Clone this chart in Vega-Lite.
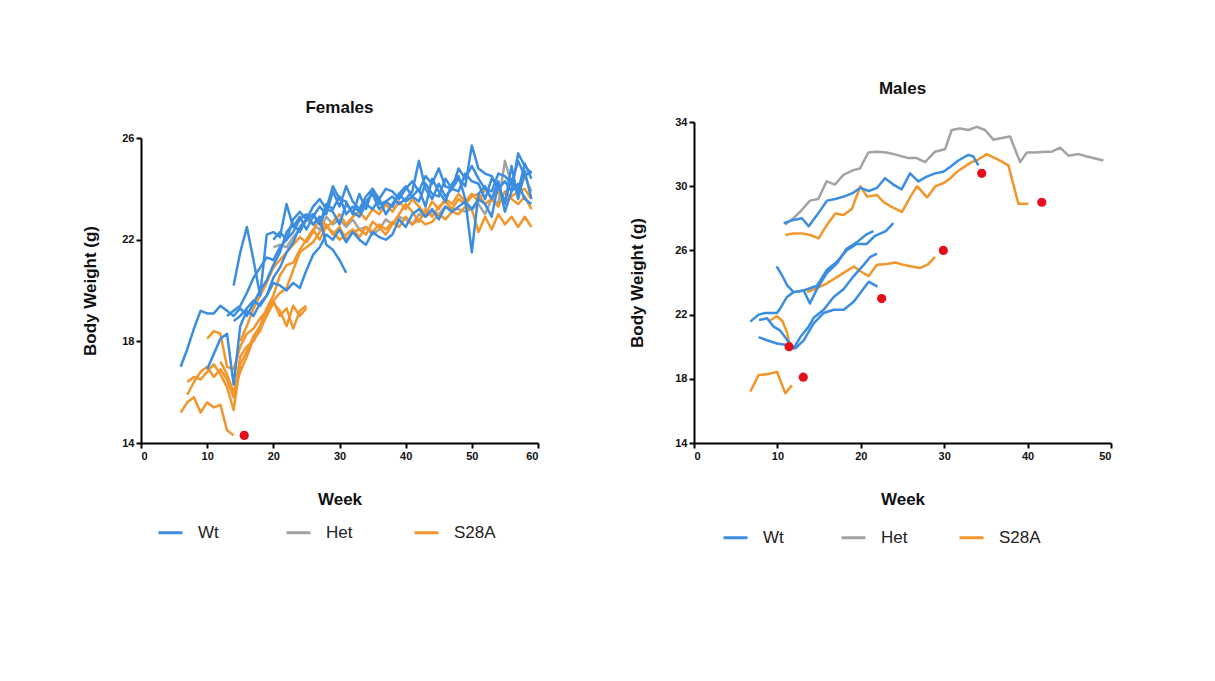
{
"$schema": "https://vega.github.io/schema/vega-lite/v6.json",
"background": "white",
"padding": {"left": 81, "top": 80, "right": 5, "bottom": 5},
"spacing": 89,
"config": {
 "view": {"stroke": null},
 "font": "Liberation Sans",
 "axis": {"domainColor": "#000", "domainWidth": 2, "tickColor": "#000", "tickWidth": 2, "tickSize": 5, "grid": false, "labelFont": "Liberation Sans", "labelFontWeight": "bold", "labelFontSize": 11, "labelColor": "#111", "titleFont": "Liberation Sans", "titleFontWeight": "bold", "titleFontSize": 17, "titleColor": "#111", "labelPadding": 2},
 "axisX": {"titlePadding": 30},
 "title": {"font": "Liberation Sans", "fontSize": 17, "fontWeight": "bold", "color": "#111", "anchor": "middle", "offset": 18},
 "legend": {"orient": "none", "direction": "horizontal", "symbolType": "stroke", "symbolSize": 576, "symbolStrokeWidth": 3, "labelFont": "Liberation Sans", "labelFontSize": 17, "labelColor": "#222", "labelOffset": 14, "gridAlign": "all"}
},
"resolve": {"scale": {"x": "independent", "y": "independent"}, "legend": {"color": "independent"}},
"datasets": {
"females": [
{"id":"FH1","geno":"Het","week":20,"bw":21.7},{"id":"FH1","geno":"Het","week":21,"bw":21.8},{"id":"FH1","geno":"Het","week":22,"bw":21.7},{"id":"FH1","geno":"Het","week":23,"bw":22.1},{"id":"FH1","geno":"Het","week":24,"bw":22.4},{"id":"FH1","geno":"Het","week":25,"bw":22.8},{"id":"FH1","geno":"Het","week":26,"bw":22.6},{"id":"FH1","geno":"Het","week":27,"bw":22.4},{"id":"FH1","geno":"Het","week":28,"bw":22.9},{"id":"FH1","geno":"Het","week":29,"bw":22.6},{"id":"FH1","geno":"Het","week":30,"bw":22.8},{"id":"FH1","geno":"Het","week":31,"bw":22.5},{"id":"FH1","geno":"Het","week":32,"bw":22.8},{"id":"FH1","geno":"Het","week":33,"bw":22.4},{"id":"FH1","geno":"Het","week":34,"bw":22.5},{"id":"FH1","geno":"Het","week":35,"bw":22.2},{"id":"FH1","geno":"Het","week":36,"bw":22.4},{"id":"FH1","geno":"Het","week":37,"bw":22.8},{"id":"FH1","geno":"Het","week":38,"bw":22.6},{"id":"FH1","geno":"Het","week":39,"bw":22.9},{"id":"FH1","geno":"Het","week":40,"bw":22.8},{"id":"FH1","geno":"Het","week":41,"bw":22.6},{"id":"FH1","geno":"Het","week":42,"bw":23.0},{"id":"FH1","geno":"Het","week":43,"bw":22.9},{"id":"FH1","geno":"Het","week":44,"bw":23.1},{"id":"FH1","geno":"Het","week":45,"bw":23.0},{"id":"FH1","geno":"Het","week":46,"bw":23.3},{"id":"FH1","geno":"Het","week":47,"bw":23.2},{"id":"FH1","geno":"Het","week":48,"bw":23.2},{"id":"FH1","geno":"Het","week":49,"bw":23.1},{"id":"FH1","geno":"Het","week":50,"bw":23.2},{"id":"FH1","geno":"Het","week":51,"bw":23.4},{"id":"FH1","geno":"Het","week":52,"bw":23.0},{"id":"FH1","geno":"Het","week":53,"bw":23.6},{"id":"FH1","geno":"Het","week":54,"bw":23.4},{"id":"FH1","geno":"Het","week":55,"bw":25.1},{"id":"FH1","geno":"Het","week":56,"bw":24.2},{"id":"FH1","geno":"Het","week":57,"bw":23.8},{"id":"FH1","geno":"Het","week":58,"bw":24.5},{"id":"FH1","geno":"Het","week":59,"bw":23.9},
{"id":"FO1","geno":"S28A","week":6,"bw":15.2},{"id":"FO1","geno":"S28A","week":7,"bw":15.6},{"id":"FO1","geno":"S28A","week":8,"bw":15.8},{"id":"FO1","geno":"S28A","week":9,"bw":15.2},{"id":"FO1","geno":"S28A","week":10,"bw":15.6},{"id":"FO1","geno":"S28A","week":11,"bw":15.4},{"id":"FO1","geno":"S28A","week":12,"bw":15.5},{"id":"FO1","geno":"S28A","week":13,"bw":14.5},{"id":"FO1","geno":"S28A","week":14,"bw":14.3},
{"id":"FO2","geno":"S28A","week":7,"bw":16.4},{"id":"FO2","geno":"S28A","week":8,"bw":16.6},{"id":"FO2","geno":"S28A","week":9,"bw":16.5},{"id":"FO2","geno":"S28A","week":10,"bw":16.8},{"id":"FO2","geno":"S28A","week":11,"bw":17.1},{"id":"FO2","geno":"S28A","week":12,"bw":16.7},{"id":"FO2","geno":"S28A","week":13,"bw":16.2},{"id":"FO2","geno":"S28A","week":14,"bw":15.3},{"id":"FO2","geno":"S28A","week":15,"bw":17.1},{"id":"FO2","geno":"S28A","week":16,"bw":17.6},{"id":"FO2","geno":"S28A","week":17,"bw":18.2},{"id":"FO2","geno":"S28A","week":18,"bw":18.6},{"id":"FO2","geno":"S28A","week":19,"bw":19.3},{"id":"FO2","geno":"S28A","week":20,"bw":19.8},{"id":"FO2","geno":"S28A","week":21,"bw":20.6},{"id":"FO2","geno":"S28A","week":22,"bw":21.0},{"id":"FO2","geno":"S28A","week":23,"bw":21.1},{"id":"FO2","geno":"S28A","week":24,"bw":21.6},{"id":"FO2","geno":"S28A","week":25,"bw":22.0},{"id":"FO2","geno":"S28A","week":26,"bw":22.4},{"id":"FO2","geno":"S28A","week":27,"bw":22.0},{"id":"FO2","geno":"S28A","week":28,"bw":22.5},{"id":"FO2","geno":"S28A","week":29,"bw":22.3},{"id":"FO2","geno":"S28A","week":30,"bw":22.0},{"id":"FO2","geno":"S28A","week":31,"bw":22.2},{"id":"FO2","geno":"S28A","week":32,"bw":22.4},{"id":"FO2","geno":"S28A","week":33,"bw":22.1},{"id":"FO2","geno":"S28A","week":34,"bw":22.5},{"id":"FO2","geno":"S28A","week":35,"bw":22.3},{"id":"FO2","geno":"S28A","week":36,"bw":22.6},{"id":"FO2","geno":"S28A","week":37,"bw":22.4},{"id":"FO2","geno":"S28A","week":38,"bw":22.7},{"id":"FO2","geno":"S28A","week":39,"bw":22.5},{"id":"FO2","geno":"S28A","week":40,"bw":22.9},{"id":"FO2","geno":"S28A","week":41,"bw":22.6},{"id":"FO2","geno":"S28A","week":42,"bw":22.8},{"id":"FO2","geno":"S28A","week":43,"bw":22.6},{"id":"FO2","geno":"S28A","week":44,"bw":22.7},{"id":"FO2","geno":"S28A","week":45,"bw":23.0},{"id":"FO2","geno":"S28A","week":46,"bw":22.8},{"id":"FO2","geno":"S28A","week":47,"bw":23.1},{"id":"FO2","geno":"S28A","week":48,"bw":23.0},{"id":"FO2","geno":"S28A","week":49,"bw":23.3},{"id":"FO2","geno":"S28A","week":50,"bw":23.2},{"id":"FO2","geno":"S28A","week":51,"bw":22.3},{"id":"FO2","geno":"S28A","week":52,"bw":22.9},{"id":"FO2","geno":"S28A","week":53,"bw":22.4},{"id":"FO2","geno":"S28A","week":54,"bw":23.0},{"id":"FO2","geno":"S28A","week":55,"bw":22.6},{"id":"FO2","geno":"S28A","week":56,"bw":22.9},{"id":"FO2","geno":"S28A","week":57,"bw":22.5},{"id":"FO2","geno":"S28A","week":58,"bw":22.9},{"id":"FO2","geno":"S28A","week":59,"bw":22.5},
{"id":"FO3","geno":"S28A","week":10,"bw":18.1},{"id":"FO3","geno":"S28A","week":11,"bw":18.4},{"id":"FO3","geno":"S28A","week":12,"bw":18.3},{"id":"FO3","geno":"S28A","week":13,"bw":17.0},{"id":"FO3","geno":"S28A","week":14,"bw":16.9},{"id":"FO3","geno":"S28A","week":15,"bw":17.8},{"id":"FO3","geno":"S28A","week":16,"bw":18.3},{"id":"FO3","geno":"S28A","week":17,"bw":18.5},{"id":"FO3","geno":"S28A","week":18,"bw":18.9},{"id":"FO3","geno":"S28A","week":19,"bw":19.2},{"id":"FO3","geno":"S28A","week":20,"bw":19.6},{"id":"FO3","geno":"S28A","week":21,"bw":19.9},{"id":"FO3","geno":"S28A","week":22,"bw":20.1},{"id":"FO3","geno":"S28A","week":23,"bw":20.8},{"id":"FO3","geno":"S28A","week":24,"bw":21.5},{"id":"FO3","geno":"S28A","week":25,"bw":21.7},{"id":"FO3","geno":"S28A","week":26,"bw":21.9},{"id":"FO3","geno":"S28A","week":27,"bw":22.3},{"id":"FO3","geno":"S28A","week":28,"bw":22.6},{"id":"FO3","geno":"S28A","week":29,"bw":22.2},{"id":"FO3","geno":"S28A","week":30,"bw":22.5},{"id":"FO3","geno":"S28A","week":31,"bw":22.0},{"id":"FO3","geno":"S28A","week":32,"bw":22.3},{"id":"FO3","geno":"S28A","week":33,"bw":22.4},{"id":"FO3","geno":"S28A","week":34,"bw":22.2},{"id":"FO3","geno":"S28A","week":35,"bw":22.7},{"id":"FO3","geno":"S28A","week":36,"bw":22.5},{"id":"FO3","geno":"S28A","week":37,"bw":22.2},{"id":"FO3","geno":"S28A","week":38,"bw":22.6},{"id":"FO3","geno":"S28A","week":39,"bw":23.0},{"id":"FO3","geno":"S28A","week":40,"bw":23.4},{"id":"FO3","geno":"S28A","week":41,"bw":23.1},{"id":"FO3","geno":"S28A","week":42,"bw":22.7},{"id":"FO3","geno":"S28A","week":43,"bw":23.2},{"id":"FO3","geno":"S28A","week":44,"bw":22.9},{"id":"FO3","geno":"S28A","week":45,"bw":23.3},{"id":"FO3","geno":"S28A","week":46,"bw":23.5},{"id":"FO3","geno":"S28A","week":47,"bw":23.2},{"id":"FO3","geno":"S28A","week":48,"bw":23.6},{"id":"FO3","geno":"S28A","week":49,"bw":23.4},{"id":"FO3","geno":"S28A","week":50,"bw":23.7},{"id":"FO3","geno":"S28A","week":51,"bw":23.8},{"id":"FO3","geno":"S28A","week":52,"bw":23.4},{"id":"FO3","geno":"S28A","week":53,"bw":23.6},{"id":"FO3","geno":"S28A","week":54,"bw":23.3},{"id":"FO3","geno":"S28A","week":55,"bw":23.9},{"id":"FO3","geno":"S28A","week":56,"bw":23.6},{"id":"FO3","geno":"S28A","week":57,"bw":23.4},{"id":"FO3","geno":"S28A","week":58,"bw":23.7},{"id":"FO3","geno":"S28A","week":59,"bw":23.2},
{"id":"FO4","geno":"S28A","week":7,"bw":15.9},{"id":"FO4","geno":"S28A","week":8,"bw":16.4},{"id":"FO4","geno":"S28A","week":9,"bw":16.8},{"id":"FO4","geno":"S28A","week":10,"bw":17.0},{"id":"FO4","geno":"S28A","week":11,"bw":16.6},{"id":"FO4","geno":"S28A","week":12,"bw":16.9},{"id":"FO4","geno":"S28A","week":13,"bw":16.5},{"id":"FO4","geno":"S28A","week":14,"bw":15.8},{"id":"FO4","geno":"S28A","week":15,"bw":17.4},{"id":"FO4","geno":"S28A","week":16,"bw":17.8},{"id":"FO4","geno":"S28A","week":17,"bw":18.0},{"id":"FO4","geno":"S28A","week":18,"bw":18.5},{"id":"FO4","geno":"S28A","week":19,"bw":19.0},{"id":"FO4","geno":"S28A","week":20,"bw":19.5},{"id":"FO4","geno":"S28A","week":21,"bw":19.2},{"id":"FO4","geno":"S28A","week":22,"bw":18.6},{"id":"FO4","geno":"S28A","week":23,"bw":19.4},{"id":"FO4","geno":"S28A","week":24,"bw":19.0},{"id":"FO4","geno":"S28A","week":25,"bw":19.3},
{"id":"FO5","geno":"S28A","week":12,"bw":17.2},{"id":"FO5","geno":"S28A","week":13,"bw":16.7},{"id":"FO5","geno":"S28A","week":14,"bw":16.0},{"id":"FO5","geno":"S28A","week":15,"bw":16.8},{"id":"FO5","geno":"S28A","week":16,"bw":17.4},{"id":"FO5","geno":"S28A","week":17,"bw":18.1},{"id":"FO5","geno":"S28A","week":18,"bw":18.4},{"id":"FO5","geno":"S28A","week":19,"bw":19.1},{"id":"FO5","geno":"S28A","week":20,"bw":19.6},{"id":"FO5","geno":"S28A","week":21,"bw":19.0},{"id":"FO5","geno":"S28A","week":22,"bw":19.3},{"id":"FO5","geno":"S28A","week":23,"bw":18.5},{"id":"FO5","geno":"S28A","week":24,"bw":19.2},{"id":"FO5","geno":"S28A","week":25,"bw":19.4},
{"id":"FO6","geno":"S28A","week":15,"bw":18.0},{"id":"FO6","geno":"S28A","week":16,"bw":18.6},{"id":"FO6","geno":"S28A","week":17,"bw":19.3},{"id":"FO6","geno":"S28A","week":18,"bw":19.8},{"id":"FO6","geno":"S28A","week":19,"bw":20.3},{"id":"FO6","geno":"S28A","week":20,"bw":20.9},{"id":"FO6","geno":"S28A","week":21,"bw":21.2},{"id":"FO6","geno":"S28A","week":22,"bw":21.5},{"id":"FO6","geno":"S28A","week":23,"bw":21.8},{"id":"FO6","geno":"S28A","week":24,"bw":22.1},{"id":"FO6","geno":"S28A","week":25,"bw":21.9},{"id":"FO6","geno":"S28A","week":26,"bw":22.3},{"id":"FO6","geno":"S28A","week":27,"bw":22.9},{"id":"FO6","geno":"S28A","week":28,"bw":22.5},{"id":"FO6","geno":"S28A","week":29,"bw":22.7},{"id":"FO6","geno":"S28A","week":30,"bw":23.0},{"id":"FO6","geno":"S28A","week":31,"bw":22.6},{"id":"FO6","geno":"S28A","week":32,"bw":22.9},{"id":"FO6","geno":"S28A","week":33,"bw":23.1},{"id":"FO6","geno":"S28A","week":34,"bw":22.8},{"id":"FO6","geno":"S28A","week":35,"bw":23.2},{"id":"FO6","geno":"S28A","week":36,"bw":23.0},{"id":"FO6","geno":"S28A","week":37,"bw":23.4},{"id":"FO6","geno":"S28A","week":38,"bw":23.1},{"id":"FO6","geno":"S28A","week":39,"bw":23.5},{"id":"FO6","geno":"S28A","week":40,"bw":23.2},{"id":"FO6","geno":"S28A","week":41,"bw":23.6},{"id":"FO6","geno":"S28A","week":42,"bw":23.3},{"id":"FO6","geno":"S28A","week":43,"bw":23.0},{"id":"FO6","geno":"S28A","week":44,"bw":23.5},{"id":"FO6","geno":"S28A","week":45,"bw":23.2},{"id":"FO6","geno":"S28A","week":46,"bw":23.6},{"id":"FO6","geno":"S28A","week":47,"bw":23.4},{"id":"FO6","geno":"S28A","week":48,"bw":23.8},{"id":"FO6","geno":"S28A","week":49,"bw":23.5},{"id":"FO6","geno":"S28A","week":50,"bw":23.8},{"id":"FO6","geno":"S28A","week":51,"bw":23.5},{"id":"FO6","geno":"S28A","week":52,"bw":24.0},{"id":"FO6","geno":"S28A","week":53,"bw":23.6},{"id":"FO6","geno":"S28A","week":54,"bw":23.9},{"id":"FO6","geno":"S28A","week":55,"bw":23.5},{"id":"FO6","geno":"S28A","week":56,"bw":23.7},{"id":"FO6","geno":"S28A","week":57,"bw":23.9},{"id":"FO6","geno":"S28A","week":58,"bw":24.0},{"id":"FO6","geno":"S28A","week":59,"bw":23.6},
{"id":"FW1","geno":"Wt","week":6,"bw":17.0},{"id":"FW1","geno":"Wt","week":7,"bw":17.7},{"id":"FW1","geno":"Wt","week":8,"bw":18.5},{"id":"FW1","geno":"Wt","week":9,"bw":19.2},{"id":"FW1","geno":"Wt","week":10,"bw":19.1},{"id":"FW1","geno":"Wt","week":11,"bw":19.1},{"id":"FW1","geno":"Wt","week":12,"bw":19.4},{"id":"FW1","geno":"Wt","week":13,"bw":19.2},{"id":"FW1","geno":"Wt","week":14,"bw":19.0},{"id":"FW1","geno":"Wt","week":15,"bw":19.3},{"id":"FW1","geno":"Wt","week":16,"bw":19.0},{"id":"FW1","geno":"Wt","week":17,"bw":19.5},{"id":"FW1","geno":"Wt","week":18,"bw":20.0},{"id":"FW1","geno":"Wt","week":19,"bw":20.4},{"id":"FW1","geno":"Wt","week":20,"bw":21.0},{"id":"FW1","geno":"Wt","week":21,"bw":21.5},{"id":"FW1","geno":"Wt","week":22,"bw":22.3},{"id":"FW1","geno":"Wt","week":23,"bw":22.6},{"id":"FW1","geno":"Wt","week":24,"bw":22.3},{"id":"FW1","geno":"Wt","week":25,"bw":22.8},{"id":"FW1","geno":"Wt","week":26,"bw":23.0},{"id":"FW1","geno":"Wt","week":27,"bw":22.6},{"id":"FW1","geno":"Wt","week":28,"bw":23.4},{"id":"FW1","geno":"Wt","week":29,"bw":23.2},{"id":"FW1","geno":"Wt","week":30,"bw":23.7},{"id":"FW1","geno":"Wt","week":31,"bw":23.0},{"id":"FW1","geno":"Wt","week":32,"bw":23.3},{"id":"FW1","geno":"Wt","week":33,"bw":23.1},{"id":"FW1","geno":"Wt","week":34,"bw":23.5},{"id":"FW1","geno":"Wt","week":35,"bw":23.8},{"id":"FW1","geno":"Wt","week":36,"bw":23.2},{"id":"FW1","geno":"Wt","week":37,"bw":23.5},{"id":"FW1","geno":"Wt","week":38,"bw":23.7},{"id":"FW1","geno":"Wt","week":39,"bw":23.4},{"id":"FW1","geno":"Wt","week":40,"bw":23.6},{"id":"FW1","geno":"Wt","week":41,"bw":23.9},{"id":"FW1","geno":"Wt","week":42,"bw":25.1},{"id":"FW1","geno":"Wt","week":43,"bw":24.0},{"id":"FW1","geno":"Wt","week":44,"bw":23.6},{"id":"FW1","geno":"Wt","week":45,"bw":24.2},{"id":"FW1","geno":"Wt","week":46,"bw":23.7},{"id":"FW1","geno":"Wt","week":47,"bw":24.0},{"id":"FW1","geno":"Wt","week":48,"bw":24.4},{"id":"FW1","geno":"Wt","week":49,"bw":24.1},{"id":"FW1","geno":"Wt","week":50,"bw":25.7},{"id":"FW1","geno":"Wt","week":51,"bw":24.8},{"id":"FW1","geno":"Wt","week":52,"bw":24.6},{"id":"FW1","geno":"Wt","week":53,"bw":24.5},{"id":"FW1","geno":"Wt","week":54,"bw":24.0},{"id":"FW1","geno":"Wt","week":55,"bw":24.3},{"id":"FW1","geno":"Wt","week":56,"bw":23.9},{"id":"FW1","geno":"Wt","week":57,"bw":25.4},{"id":"FW1","geno":"Wt","week":58,"bw":24.9},{"id":"FW1","geno":"Wt","week":59,"bw":24.6},
{"id":"FW2","geno":"Wt","week":14,"bw":20.2},{"id":"FW2","geno":"Wt","week":15,"bw":21.5},{"id":"FW2","geno":"Wt","week":16,"bw":22.5},{"id":"FW2","geno":"Wt","week":17,"bw":21.2},{"id":"FW2","geno":"Wt","week":18,"bw":19.8},{"id":"FW2","geno":"Wt","week":19,"bw":22.2},{"id":"FW2","geno":"Wt","week":20,"bw":22.3},{"id":"FW2","geno":"Wt","week":21,"bw":22.1},{"id":"FW2","geno":"Wt","week":22,"bw":23.4},{"id":"FW2","geno":"Wt","week":23,"bw":22.5},{"id":"FW2","geno":"Wt","week":24,"bw":22.9},{"id":"FW2","geno":"Wt","week":25,"bw":22.4},{"id":"FW2","geno":"Wt","week":26,"bw":22.9},{"id":"FW2","geno":"Wt","week":27,"bw":23.3},{"id":"FW2","geno":"Wt","week":28,"bw":23.0},{"id":"FW2","geno":"Wt","week":29,"bw":23.9},{"id":"FW2","geno":"Wt","week":30,"bw":23.3},{"id":"FW2","geno":"Wt","week":31,"bw":24.1},{"id":"FW2","geno":"Wt","week":32,"bw":23.5},{"id":"FW2","geno":"Wt","week":33,"bw":23.2},{"id":"FW2","geno":"Wt","week":34,"bw":23.7},{"id":"FW2","geno":"Wt","week":35,"bw":24.0},{"id":"FW2","geno":"Wt","week":36,"bw":23.4},{"id":"FW2","geno":"Wt","week":37,"bw":23.5},{"id":"FW2","geno":"Wt","week":38,"bw":23.3},{"id":"FW2","geno":"Wt","week":39,"bw":23.8},{"id":"FW2","geno":"Wt","week":40,"bw":24.1},{"id":"FW2","geno":"Wt","week":41,"bw":23.7},{"id":"FW2","geno":"Wt","week":42,"bw":23.5},{"id":"FW2","geno":"Wt","week":43,"bw":24.2},{"id":"FW2","geno":"Wt","week":44,"bw":23.8},{"id":"FW2","geno":"Wt","week":45,"bw":23.7},{"id":"FW2","geno":"Wt","week":46,"bw":24.4},{"id":"FW2","geno":"Wt","week":47,"bw":24.0},{"id":"FW2","geno":"Wt","week":48,"bw":23.9},{"id":"FW2","geno":"Wt","week":49,"bw":24.6},{"id":"FW2","geno":"Wt","week":50,"bw":24.3},{"id":"FW2","geno":"Wt","week":51,"bw":24.2},{"id":"FW2","geno":"Wt","week":52,"bw":23.6},{"id":"FW2","geno":"Wt","week":53,"bw":24.4},{"id":"FW2","geno":"Wt","week":54,"bw":24.1},{"id":"FW2","geno":"Wt","week":55,"bw":23.5},{"id":"FW2","geno":"Wt","week":56,"bw":24.4},{"id":"FW2","geno":"Wt","week":57,"bw":23.9},{"id":"FW2","geno":"Wt","week":58,"bw":25.0},{"id":"FW2","geno":"Wt","week":59,"bw":24.4},
{"id":"FW3","geno":"Wt","week":10,"bw":16.9},{"id":"FW3","geno":"Wt","week":11,"bw":17.5},{"id":"FW3","geno":"Wt","week":12,"bw":18.1},{"id":"FW3","geno":"Wt","week":13,"bw":18.3},{"id":"FW3","geno":"Wt","week":14,"bw":16.3},{"id":"FW3","geno":"Wt","week":15,"bw":18.6},{"id":"FW3","geno":"Wt","week":16,"bw":19.2},{"id":"FW3","geno":"Wt","week":17,"bw":19.0},{"id":"FW3","geno":"Wt","week":18,"bw":19.5},{"id":"FW3","geno":"Wt","week":19,"bw":19.8},{"id":"FW3","geno":"Wt","week":20,"bw":20.5},{"id":"FW3","geno":"Wt","week":21,"bw":20.9},{"id":"FW3","geno":"Wt","week":22,"bw":21.5},{"id":"FW3","geno":"Wt","week":23,"bw":21.9},{"id":"FW3","geno":"Wt","week":24,"bw":22.5},{"id":"FW3","geno":"Wt","week":25,"bw":22.8},{"id":"FW3","geno":"Wt","week":26,"bw":23.0},{"id":"FW3","geno":"Wt","week":27,"bw":22.6},{"id":"FW3","geno":"Wt","week":28,"bw":23.2},{"id":"FW3","geno":"Wt","week":29,"bw":23.1},{"id":"FW3","geno":"Wt","week":30,"bw":22.6},{"id":"FW3","geno":"Wt","week":31,"bw":23.4},{"id":"FW3","geno":"Wt","week":32,"bw":23.1},{"id":"FW3","geno":"Wt","week":33,"bw":22.9},{"id":"FW3","geno":"Wt","week":34,"bw":23.4},{"id":"FW3","geno":"Wt","week":35,"bw":23.2},{"id":"FW3","geno":"Wt","week":36,"bw":23.6},{"id":"FW3","geno":"Wt","week":37,"bw":23.0},{"id":"FW3","geno":"Wt","week":38,"bw":23.4},{"id":"FW3","geno":"Wt","week":39,"bw":23.8},{"id":"FW3","geno":"Wt","week":40,"bw":23.5},{"id":"FW3","geno":"Wt","week":41,"bw":23.7},{"id":"FW3","geno":"Wt","week":42,"bw":24.0},{"id":"FW3","geno":"Wt","week":43,"bw":23.3},{"id":"FW3","geno":"Wt","week":44,"bw":24.4},{"id":"FW3","geno":"Wt","week":45,"bw":23.9},{"id":"FW3","geno":"Wt","week":46,"bw":23.5},{"id":"FW3","geno":"Wt","week":47,"bw":24.2},{"id":"FW3","geno":"Wt","week":48,"bw":24.5},{"id":"FW3","geno":"Wt","week":49,"bw":23.6},{"id":"FW3","geno":"Wt","week":50,"bw":21.5},{"id":"FW3","geno":"Wt","week":51,"bw":23.8},{"id":"FW3","geno":"Wt","week":52,"bw":24.1},{"id":"FW3","geno":"Wt","week":53,"bw":23.6},{"id":"FW3","geno":"Wt","week":54,"bw":24.3},{"id":"FW3","geno":"Wt","week":55,"bw":23.1},{"id":"FW3","geno":"Wt","week":56,"bw":23.9},{"id":"FW3","geno":"Wt","week":57,"bw":24.2},{"id":"FW3","geno":"Wt","week":58,"bw":23.6},{"id":"FW3","geno":"Wt","week":59,"bw":23.4},
{"id":"FW4","geno":"Wt","week":13,"bw":19.0},{"id":"FW4","geno":"Wt","week":14,"bw":19.2},{"id":"FW4","geno":"Wt","week":15,"bw":19.4},{"id":"FW4","geno":"Wt","week":16,"bw":19.9},{"id":"FW4","geno":"Wt","week":17,"bw":20.5},{"id":"FW4","geno":"Wt","week":18,"bw":20.9},{"id":"FW4","geno":"Wt","week":19,"bw":21.3},{"id":"FW4","geno":"Wt","week":20,"bw":21.2},{"id":"FW4","geno":"Wt","week":21,"bw":21.7},{"id":"FW4","geno":"Wt","week":22,"bw":22.0},{"id":"FW4","geno":"Wt","week":23,"bw":22.3},{"id":"FW4","geno":"Wt","week":24,"bw":22.8},{"id":"FW4","geno":"Wt","week":25,"bw":23.0},{"id":"FW4","geno":"Wt","week":26,"bw":22.6},{"id":"FW4","geno":"Wt","week":27,"bw":22.9},{"id":"FW4","geno":"Wt","week":28,"bw":21.8},{"id":"FW4","geno":"Wt","week":29,"bw":21.6},{"id":"FW4","geno":"Wt","week":30,"bw":21.2},{"id":"FW4","geno":"Wt","week":31,"bw":20.7},
{"id":"FW5","geno":"Wt","week":14,"bw":18.8},{"id":"FW5","geno":"Wt","week":15,"bw":19.0},{"id":"FW5","geno":"Wt","week":16,"bw":19.3},{"id":"FW5","geno":"Wt","week":17,"bw":19.6},{"id":"FW5","geno":"Wt","week":18,"bw":19.4},{"id":"FW5","geno":"Wt","week":19,"bw":19.8},{"id":"FW5","geno":"Wt","week":20,"bw":20.3},{"id":"FW5","geno":"Wt","week":21,"bw":20.2},{"id":"FW5","geno":"Wt","week":22,"bw":20.0},{"id":"FW5","geno":"Wt","week":23,"bw":20.3},{"id":"FW5","geno":"Wt","week":24,"bw":20.1},{"id":"FW5","geno":"Wt","week":25,"bw":20.8},{"id":"FW5","geno":"Wt","week":26,"bw":21.4},{"id":"FW5","geno":"Wt","week":27,"bw":21.7},{"id":"FW5","geno":"Wt","week":28,"bw":22.2},{"id":"FW5","geno":"Wt","week":29,"bw":22.0},{"id":"FW5","geno":"Wt","week":30,"bw":22.4},{"id":"FW5","geno":"Wt","week":31,"bw":21.9},{"id":"FW5","geno":"Wt","week":32,"bw":22.3},{"id":"FW5","geno":"Wt","week":33,"bw":22.0},{"id":"FW5","geno":"Wt","week":34,"bw":21.8},{"id":"FW5","geno":"Wt","week":35,"bw":22.3},{"id":"FW5","geno":"Wt","week":36,"bw":22.1},{"id":"FW5","geno":"Wt","week":37,"bw":22.0},{"id":"FW5","geno":"Wt","week":38,"bw":22.2},{"id":"FW5","geno":"Wt","week":39,"bw":22.8},{"id":"FW5","geno":"Wt","week":40,"bw":22.5},{"id":"FW5","geno":"Wt","week":41,"bw":23.0},{"id":"FW5","geno":"Wt","week":42,"bw":23.2},{"id":"FW5","geno":"Wt","week":43,"bw":22.9},{"id":"FW5","geno":"Wt","week":44,"bw":23.2},{"id":"FW5","geno":"Wt","week":45,"bw":22.8},{"id":"FW5","geno":"Wt","week":46,"bw":23.3},{"id":"FW5","geno":"Wt","week":47,"bw":23.1},{"id":"FW5","geno":"Wt","week":48,"bw":23.3},{"id":"FW5","geno":"Wt","week":49,"bw":23.5},{"id":"FW5","geno":"Wt","week":50,"bw":23.2},{"id":"FW5","geno":"Wt","week":51,"bw":23.6},{"id":"FW5","geno":"Wt","week":52,"bw":23.4},{"id":"FW5","geno":"Wt","week":53,"bw":22.9},{"id":"FW5","geno":"Wt","week":54,"bw":24.2},{"id":"FW5","geno":"Wt","week":55,"bw":23.4},{"id":"FW5","geno":"Wt","week":56,"bw":24.9},{"id":"FW5","geno":"Wt","week":57,"bw":23.6},{"id":"FW5","geno":"Wt","week":58,"bw":24.7},{"id":"FW5","geno":"Wt","week":59,"bw":23.6},
{"id":"FW6","geno":"Wt","week":20,"bw":22.0},{"id":"FW6","geno":"Wt","week":21,"bw":22.3},{"id":"FW6","geno":"Wt","week":22,"bw":22.0},{"id":"FW6","geno":"Wt","week":23,"bw":22.8},{"id":"FW6","geno":"Wt","week":24,"bw":23.1},{"id":"FW6","geno":"Wt","week":25,"bw":22.8},{"id":"FW6","geno":"Wt","week":26,"bw":23.3},{"id":"FW6","geno":"Wt","week":27,"bw":23.6},{"id":"FW6","geno":"Wt","week":28,"bw":23.2},{"id":"FW6","geno":"Wt","week":29,"bw":24.1},{"id":"FW6","geno":"Wt","week":30,"bw":23.6},{"id":"FW6","geno":"Wt","week":31,"bw":23.5},{"id":"FW6","geno":"Wt","week":32,"bw":23.0},{"id":"FW6","geno":"Wt","week":33,"bw":23.8},{"id":"FW6","geno":"Wt","week":34,"bw":23.2},{"id":"FW6","geno":"Wt","week":35,"bw":24.0},{"id":"FW6","geno":"Wt","week":36,"bw":23.6},{"id":"FW6","geno":"Wt","week":37,"bw":24.0},{"id":"FW6","geno":"Wt","week":38,"bw":23.9},{"id":"FW6","geno":"Wt","week":39,"bw":23.6},{"id":"FW6","geno":"Wt","week":40,"bw":24.0},{"id":"FW6","geno":"Wt","week":41,"bw":24.3},{"id":"FW6","geno":"Wt","week":42,"bw":23.9},{"id":"FW6","geno":"Wt","week":43,"bw":24.5},{"id":"FW6","geno":"Wt","week":44,"bw":24.2},{"id":"FW6","geno":"Wt","week":45,"bw":24.8},{"id":"FW6","geno":"Wt","week":46,"bw":24.1},{"id":"FW6","geno":"Wt","week":47,"bw":24.0},{"id":"FW6","geno":"Wt","week":48,"bw":24.8},{"id":"FW6","geno":"Wt","week":49,"bw":24.4},{"id":"FW6","geno":"Wt","week":50,"bw":24.9},{"id":"FW6","geno":"Wt","week":51,"bw":24.4},{"id":"FW6","geno":"Wt","week":52,"bw":24.0},{"id":"FW6","geno":"Wt","week":53,"bw":23.9},{"id":"FW6","geno":"Wt","week":54,"bw":24.6},{"id":"FW6","geno":"Wt","week":55,"bw":24.5},{"id":"FW6","geno":"Wt","week":56,"bw":24.2},{"id":"FW6","geno":"Wt","week":57,"bw":25.1},{"id":"FW6","geno":"Wt","week":58,"bw":24.5},{"id":"FW6","geno":"Wt","week":59,"bw":24.7}
],
"males": [
{"id":"MH1","geno":"Het","week":10.9,"bw":27.6},{"id":"MH1","geno":"Het","week":11.9,"bw":28.0},{"id":"MH1","geno":"Het","week":12.9,"bw":28.5},{"id":"MH1","geno":"Het","week":13.9,"bw":29.1},{"id":"MH1","geno":"Het","week":14.9,"bw":29.2},{"id":"MH1","geno":"Het","week":15.9,"bw":30.3},{"id":"MH1","geno":"Het","week":16.9,"bw":30.1},{"id":"MH1","geno":"Het","week":17.9,"bw":30.7},{"id":"MH1","geno":"Het","week":19.1,"bw":31.0},{"id":"MH1","geno":"Het","week":19.9,"bw":31.1},{"id":"MH1","geno":"Het","week":20.9,"bw":32.1},{"id":"MH1","geno":"Het","week":21.9,"bw":32.15},{"id":"MH1","geno":"Het","week":23.1,"bw":32.1},{"id":"MH1","geno":"Het","week":24.3,"bw":31.95},{"id":"MH1","geno":"Het","week":25.7,"bw":31.75},{"id":"MH1","geno":"Het","week":26.7,"bw":31.75},{"id":"MH1","geno":"Het","week":27.7,"bw":31.5},{"id":"MH1","geno":"Het","week":28.9,"bw":32.15},{"id":"MH1","geno":"Het","week":30.1,"bw":32.3},{"id":"MH1","geno":"Het","week":30.9,"bw":33.5},{"id":"MH1","geno":"Het","week":31.9,"bw":33.6},{"id":"MH1","geno":"Het","week":32.9,"bw":33.5},{"id":"MH1","geno":"Het","week":33.9,"bw":33.7},{"id":"MH1","geno":"Het","week":34.9,"bw":33.5},{"id":"MH1","geno":"Het","week":35.9,"bw":32.9},{"id":"MH1","geno":"Het","week":36.9,"bw":33.0},{"id":"MH1","geno":"Het","week":37.9,"bw":33.1},{"id":"MH1","geno":"Het","week":39.1,"bw":31.5},{"id":"MH1","geno":"Het","week":39.9,"bw":32.1},{"id":"MH1","geno":"Het","week":40.9,"bw":32.1},{"id":"MH1","geno":"Het","week":42.1,"bw":32.15},{"id":"MH1","geno":"Het","week":42.9,"bw":32.15},{"id":"MH1","geno":"Het","week":43.9,"bw":32.4},{"id":"MH1","geno":"Het","week":44.9,"bw":31.9},{"id":"MH1","geno":"Het","week":46.1,"bw":32.0},{"id":"MH1","geno":"Het","week":47.1,"bw":31.85},{"id":"MH1","geno":"Het","week":49.1,"bw":31.6},
{"id":"MO1","geno":"S28A","week":10.95,"bw":26.96},{"id":"MO1","geno":"S28A","week":11.95,"bw":27.06},{"id":"MO1","geno":"S28A","week":12.95,"bw":27.06},{"id":"MO1","geno":"S28A","week":13.95,"bw":26.96},{"id":"MO1","geno":"S28A","week":14.95,"bw":26.75},{"id":"MO1","geno":"S28A","week":15.95,"bw":27.6},{"id":"MO1","geno":"S28A","week":16.95,"bw":28.3},{"id":"MO1","geno":"S28A","week":17.95,"bw":28.2},{"id":"MO1","geno":"S28A","week":18.95,"bw":28.6},{"id":"MO1","geno":"S28A","week":19.95,"bw":30.0},{"id":"MO1","geno":"S28A","week":20.75,"bw":29.35},{"id":"MO1","geno":"S28A","week":21.95,"bw":29.45},{"id":"MO1","geno":"S28A","week":22.75,"bw":29.0},{"id":"MO1","geno":"S28A","week":23.75,"bw":28.7},{"id":"MO1","geno":"S28A","week":24.95,"bw":28.4},{"id":"MO1","geno":"S28A","week":25.95,"bw":29.35},{"id":"MO1","geno":"S28A","week":26.75,"bw":30.0},{"id":"MO1","geno":"S28A","week":27.95,"bw":29.3},{"id":"MO1","geno":"S28A","week":28.95,"bw":30.0},{"id":"MO1","geno":"S28A","week":29.95,"bw":30.2},{"id":"MO1","geno":"S28A","week":30.75,"bw":30.5},{"id":"MO1","geno":"S28A","week":31.55,"bw":30.9},{"id":"MO1","geno":"S28A","week":32.1,"bw":31.1},{"id":"MO1","geno":"S28A","week":33.3,"bw":31.5},{"id":"MO1","geno":"S28A","week":33.9,"bw":31.6},{"id":"MO1","geno":"S28A","week":35.1,"bw":32.0},{"id":"MO1","geno":"S28A","week":36.3,"bw":31.7},{"id":"MO1","geno":"S28A","week":37.7,"bw":31.3},{"id":"MO1","geno":"S28A","week":38.9,"bw":28.9},{"id":"MO1","geno":"S28A","week":40.1,"bw":28.9},
{"id":"MO2","geno":"S28A","week":13.55,"bw":23.4},{"id":"MO2","geno":"S28A","week":14.55,"bw":23.6},{"id":"MO2","geno":"S28A","week":15.95,"bw":23.95},{"id":"MO2","geno":"S28A","week":17.95,"bw":24.6},{"id":"MO2","geno":"S28A","week":19.15,"bw":25.0},{"id":"MO2","geno":"S28A","week":19.95,"bw":24.7},{"id":"MO2","geno":"S28A","week":20.95,"bw":24.4},{"id":"MO2","geno":"S28A","week":21.94,"bw":25.1},{"id":"MO2","geno":"S28A","week":23.14,"bw":25.15},{"id":"MO2","geno":"S28A","week":24.14,"bw":25.25},{"id":"MO2","geno":"S28A","week":25.1,"bw":25.1},{"id":"MO2","geno":"S28A","week":26.1,"bw":25.0},{"id":"MO2","geno":"S28A","week":27.1,"bw":24.9},{"id":"MO2","geno":"S28A","week":28.1,"bw":25.15},{"id":"MO2","geno":"S28A","week":28.9,"bw":25.6},
{"id":"MO3","geno":"S28A","week":6.75,"bw":17.2},{"id":"MO3","geno":"S28A","week":7.75,"bw":18.24},{"id":"MO3","geno":"S28A","week":8.95,"bw":18.3},{"id":"MO3","geno":"S28A","week":9.95,"bw":18.44},{"id":"MO3","geno":"S28A","week":10.95,"bw":17.1},{"id":"MO3","geno":"S28A","week":11.75,"bw":17.6},
{"id":"MO4","geno":"S28A","week":9.0,"bw":21.6},{"id":"MO4","geno":"S28A","week":9.95,"bw":21.9},{"id":"MO4","geno":"S28A","week":10.6,"bw":21.6},{"id":"MO4","geno":"S28A","week":11.15,"bw":20.9},{"id":"MO4","geno":"S28A","week":11.4,"bw":20.3},
{"id":"MW0","geno":"Wt","week":10.75,"bw":27.7},{"id":"MW0","geno":"Wt","week":11.95,"bw":27.9},{"id":"MW0","geno":"Wt","week":12.95,"bw":28.0},{"id":"MW0","geno":"Wt","week":13.75,"bw":27.5},{"id":"MW0","geno":"Wt","week":14.75,"bw":28.2},{"id":"MW0","geno":"Wt","week":15.95,"bw":29.1},{"id":"MW0","geno":"Wt","week":16.95,"bw":29.2},{"id":"MW0","geno":"Wt","week":17.95,"bw":29.35},{"id":"MW0","geno":"Wt","week":18.95,"bw":29.55},{"id":"MW0","geno":"Wt","week":19.95,"bw":29.9},{"id":"MW0","geno":"Wt","week":20.95,"bw":29.7},{"id":"MW0","geno":"Wt","week":21.95,"bw":29.9},{"id":"MW0","geno":"Wt","week":22.9,"bw":30.5},{"id":"MW0","geno":"Wt","week":23.9,"bw":30.1},{"id":"MW0","geno":"Wt","week":24.9,"bw":29.8},{"id":"MW0","geno":"Wt","week":25.9,"bw":30.8},{"id":"MW0","geno":"Wt","week":26.9,"bw":30.3},{"id":"MW0","geno":"Wt","week":27.9,"bw":30.6},{"id":"MW0","geno":"Wt","week":28.9,"bw":30.8},{"id":"MW0","geno":"Wt","week":29.9,"bw":30.9},{"id":"MW0","geno":"Wt","week":30.7,"bw":31.2},{"id":"MW0","geno":"Wt","week":31.7,"bw":31.6},{"id":"MW0","geno":"Wt","week":32.9,"bw":31.95},{"id":"MW0","geno":"Wt","week":33.5,"bw":31.85},{"id":"MW0","geno":"Wt","week":34.1,"bw":31.3},
{"id":"MW1","geno":"Wt","week":9.9,"bw":25.0},{"id":"MW1","geno":"Wt","week":10.5,"bw":24.5},{"id":"MW1","geno":"Wt","week":11.2,"bw":23.8},{"id":"MW1","geno":"Wt","week":11.95,"bw":23.4},{"id":"MW1","geno":"Wt","week":13.15,"bw":23.5},{"id":"MW1","geno":"Wt","week":13.9,"bw":22.7},{"id":"MW1","geno":"Wt","week":14.75,"bw":23.6},{"id":"MW1","geno":"Wt","week":15.95,"bw":24.6},{"id":"MW1","geno":"Wt","week":17.15,"bw":25.2},{"id":"MW1","geno":"Wt","week":18.3,"bw":26.1},{"id":"MW1","geno":"Wt","week":19.5,"bw":26.5},{"id":"MW1","geno":"Wt","week":20.7,"bw":27.0},{"id":"MW1","geno":"Wt","week":21.5,"bw":27.2},
{"id":"MW2","geno":"Wt","week":6.75,"bw":21.56},{"id":"MW2","geno":"Wt","week":7.75,"bw":22.0},{"id":"MW2","geno":"Wt","week":8.55,"bw":22.1},{"id":"MW2","geno":"Wt","week":9.95,"bw":22.1},{"id":"MW2","geno":"Wt","week":10.35,"bw":22.4},{"id":"MW2","geno":"Wt","week":11.15,"bw":23.1},{"id":"MW2","geno":"Wt","week":11.95,"bw":23.4},{"id":"MW2","geno":"Wt","week":13.15,"bw":23.5},{"id":"MW2","geno":"Wt","week":14.75,"bw":23.8},{"id":"MW2","geno":"Wt","week":15.95,"bw":24.8},{"id":"MW2","geno":"Wt","week":17.15,"bw":25.3},{"id":"MW2","geno":"Wt","week":18.3,"bw":26.0},{"id":"MW2","geno":"Wt","week":19.5,"bw":26.4},{"id":"MW2","geno":"Wt","week":20.7,"bw":26.4},{"id":"MW2","geno":"Wt","week":21.7,"bw":26.9},{"id":"MW2","geno":"Wt","week":23.0,"bw":27.2},{"id":"MW2","geno":"Wt","week":23.9,"bw":27.7},
{"id":"MW3","geno":"Wt","week":7.8,"bw":21.66},{"id":"MW3","geno":"Wt","week":8.76,"bw":21.77},{"id":"MW3","geno":"Wt","week":9.55,"bw":21.25},{"id":"MW3","geno":"Wt","week":10.35,"bw":21.0},{"id":"MW3","geno":"Wt","week":11.35,"bw":20.3},{"id":"MW3","geno":"Wt","week":11.95,"bw":19.9},{"id":"MW3","geno":"Wt","week":12.75,"bw":20.6},{"id":"MW3","geno":"Wt","week":13.75,"bw":21.25},{"id":"MW3","geno":"Wt","week":14.35,"bw":21.8},{"id":"MW3","geno":"Wt","week":15.55,"bw":22.3},{"id":"MW3","geno":"Wt","week":16.75,"bw":23.1},{"id":"MW3","geno":"Wt","week":17.95,"bw":23.6},{"id":"MW3","geno":"Wt","week":19.15,"bw":24.4},{"id":"MW3","geno":"Wt","week":20.35,"bw":25.1},{"id":"MW3","geno":"Wt","week":21.15,"bw":25.6},{"id":"MW3","geno":"Wt","week":21.95,"bw":25.8},
{"id":"MW4","geno":"Wt","week":7.75,"bw":20.6},{"id":"MW4","geno":"Wt","week":8.75,"bw":20.4},{"id":"MW4","geno":"Wt","week":9.95,"bw":20.2},{"id":"MW4","geno":"Wt","week":11.15,"bw":20.1},{"id":"MW4","geno":"Wt","week":12.15,"bw":19.9},{"id":"MW4","geno":"Wt","week":13.15,"bw":20.4},{"id":"MW4","geno":"Wt","week":14.35,"bw":21.46},{"id":"MW4","geno":"Wt","week":15.55,"bw":22.1},{"id":"MW4","geno":"Wt","week":16.75,"bw":22.3},{"id":"MW4","geno":"Wt","week":17.95,"bw":22.3},{"id":"MW4","geno":"Wt","week":19.15,"bw":22.8},{"id":"MW4","geno":"Wt","week":20.95,"bw":24.05},{"id":"MW4","geno":"Wt","week":22.0,"bw":23.74}
],
"deathsF": [{"week": 15.6, "bw": 14.3}],
"deathsM": [{"week": 11.4, "bw": 20.0}, {"week": 13.1, "bw": 18.1}, {"week": 22.5, "bw": 23.0}, {"week": 29.9, "bw": 26.0}, {"week": 34.5, "bw": 30.8}, {"week": 41.7, "bw": 29.0}]
},
"hconcat": [
{
 "width": 397, "height": 321,
 "title": {"text": "Females", "offset": 5},
 "layer": [
  {"data": {"name": "females"}, "mark": {"type": "line", "strokeWidth": 2.5, "strokeJoin": "round"},
   "encoding": {
    "x": {"field": "week", "type": "quantitative", "scale": {"domain": [0, 60], "nice": false}, "axis": {"values": [0, 10, 20, 30, 40, 50, 60], "title": "Week"}},
    "y": {"field": "bw", "type": "quantitative", "scale": {"domain": [14, 26], "nice": false, "zero": false, "range": [321, 16]}, "axis": {"values": [14, 18, 22, 26], "title": "Body Weight (g)", "titlePadding": 22}},
    "color": {"field": "geno", "type": "nominal", "scale": {"domain": ["Wt", "Het", "S28A"], "range": ["#3a8de0", "#a3a3a3", "#f2962c"]}, "legend": {"title": null, "legendX": 16, "legendY": 397, "columnPadding": 40}},
    "detail": {"field": "id", "type": "nominal"}
   }},
  {"data": {"name": "deathsF"}, "mark": {"type": "point", "filled": true, "color": "#e3101b", "size": 85, "opacity": 1},
   "encoding": {"x": {"field": "week", "type": "quantitative"}, "y": {"field": "bw", "type": "quantitative"}}}
 ]
},
{
 "width": 417, "height": 321,
 "title": {"text": "Males"},
 "layer": [
  {"data": {"name": "males"}, "mark": {"type": "line", "strokeWidth": 2.5, "strokeJoin": "round"},
   "encoding": {
    "x": {"field": "week", "type": "quantitative", "scale": {"domain": [0, 50], "nice": false}, "axis": {"values": [0, 10, 20, 30, 40, 50], "title": "Week"}},
    "y": {"field": "bw", "type": "quantitative", "scale": {"domain": [14, 34], "nice": false, "zero": false}, "axis": {"values": [14, 18, 22, 26, 30, 34], "title": "Body Weight (g)", "titlePadding": 28}},
    "color": {"field": "geno", "type": "nominal", "scale": {"domain": ["Wt", "Het", "S28A"], "range": ["#3a8de0", "#a3a3a3", "#f2962c"]}, "legend": {"title": null, "legendX": 28, "legendY": 402, "columnPadding": 30}},
    "detail": {"field": "id", "type": "nominal"}
   }},
  {"data": {"name": "deathsM"}, "mark": {"type": "point", "filled": true, "color": "#e3101b", "size": 85, "opacity": 1},
   "encoding": {"x": {"field": "week", "type": "quantitative"}, "y": {"field": "bw", "type": "quantitative"}}}
 ]
}
]
}
